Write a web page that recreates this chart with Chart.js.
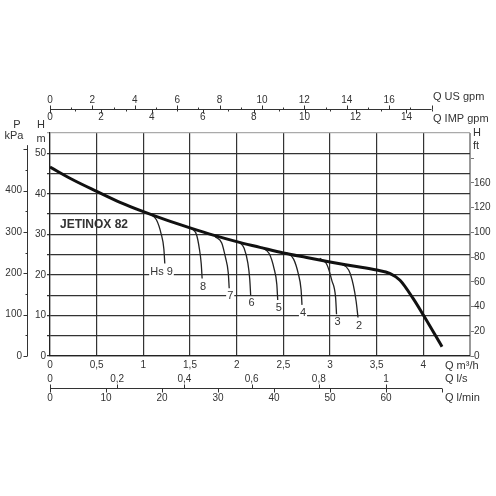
<!DOCTYPE html>
<html>
<head>
<meta charset="utf-8">
<script src="https://cdn.jsdelivr.net/npm/chart.js@4.4.1/dist/chart.umd.min.js"></script>
<style>
  html, body { margin: 0; padding: 0; background: #fff; }
</style>
</head>
<body>
<canvas id="chart" width="496" height="496"></canvas>
<script>
// pump curve JETINOX 82, head H [m] against flow Q [m3/h]
const flowM3h = [0, 0.25, 0.5, 0.75, 1, 1.25, 1.5, 1.75, 2, 2.25, 2.5, 2.75, 3, 3.25, 3.5, 3.64, 3.75, 3.89, 4.0, 4.2]
const headM = [46.6, 43.4, 40.6, 37.9, 35.6, 33.5, 31.6, 29.8, 28.2, 26.8, 25.4, 24.3, 23.2, 22.2, 21.2, 20.4, 18.7, 14.2, 10.1, 2.3]

// suction lift curves (Hs 9 ... 2)
const suctionLabels = ['Hs 9', '8', '7', '6', '5', '4', '3', '2']
const suctionQ = [
  [1.07, 1.14, 1.19, 1.22, 1.23],
  [1.52, 1.57, 1.60, 1.62, 1.63],
  [1.77, 1.84, 1.88, 1.91, 1.92],
  [2.02, 2.08, 2.12, 2.14, 2.15],
  [2.27, 2.35, 2.40, 2.43, 2.44],
  [2.54, 2.61, 2.66, 2.69, 2.70],
  [2.89, 2.97, 3.02, 3.06, 3.07],
  [3.11, 3.20, 3.25, 3.28, 3.30]
]
const suctionH = [
  [35.1, 33.6, 30.2, 26.4, 22.8],
  [31.4, 29.9, 26.5, 22.8, 19.1],
  [29.4, 27.9, 24.3, 20.5, 16.7],
  [28.2, 26.6, 22.9, 19.0, 15.0],
  [26.8, 25.2, 21.6, 17.7, 13.8],
  [25.4, 23.9, 20.3, 16.4, 12.6],
  [24.1, 22.4, 18.6, 14.4, 10.3],
  [22.8, 21.2, 17.5, 13.5, 9.5]
]

// tick labels
const flowTicks = ['0', '0,5', '1', '1,5', '2', '2,5', '3', '3,5', '4']
const headTicks = ['0', '10', '20', '30', '40', '50']
const kpaTicks = ['0', '100', '200', '300', '400']
const ftTickValues = [0, 20, 40, 60, 80, 100, 120, 140, 160]
const ftTickLabels = ['0', '20', '40', '60', '80', '100', '120', '160', '']
const usGpmTicks = ['0', '2', '4', '6', '8', '10', '12', '14', '16']
const impGpmTicks = ['0', '2', '4', '6', '8', '10', '12', '14']
const lsTicks = ['0', '0,2', '0,4', '0,6', '0,8', '1']
const lminTicks = ['0', '10', '20', '30', '40', '50', '60']

// unit conversions
const M3H_PER_USGPM = 0.2271
const M3H_PER_IMPGPM = 0.2728
const M3H_PER_LS = 3.6
const M3H_PER_LMIN = 0.06
const M_PER_KPA = 0.10197
const M_PER_FT = 0.3048

const FONT = '"Liberation Sans", Arial, sans-serif'
const num = s => parseFloat(s.replace(',', '.'))

function line(ctx, x1, y1, x2, y2) {
  ctx.beginPath()
  ctx.moveTo(x1, y1)
  ctx.lineTo(x2, y2)
  ctx.stroke()
}

function text(ctx, str, x, y, align, size, bold) {
  ctx.font = (bold ? 'bold ' : '') + size + 'px ' + FONT
  ctx.textAlign = align
  ctx.textBaseline = 'middle'
  ctx.fillText(str, x, y)
}

const extraAxes = {
  id: 'extraAxes',
  afterDraw(chart) {
    const ctx = chart.ctx
    const xs = chart.scales.x
    const ys = chart.scales.y
    const qx = q => xs.getPixelForValue(q)
    ctx.save()
    ctx.strokeStyle = '#333'
    ctx.fillStyle = '#333'
    ctx.lineWidth = 1

    // top axis: US gpm above the line, IMP gpm below
    const topY = 109.5
    line(ctx, qx(0), topY, qx(18 * M3H_PER_USGPM), topY)
    for (let g = 0; g <= 18; g++) {
      const px = Math.round(qx(g * M3H_PER_USGPM)) + 0.5
      line(ctx, px, topY, px, topY - (g % 2 ? 2 : 4))
    }
    for (let g = 0; g <= 15; g++) {
      const px = Math.round(qx(g * M3H_PER_IMPGPM)) + 0.5
      line(ctx, px, topY, px, topY + (g % 2 ? 2 : 4))
    }
    usGpmTicks.forEach(l => text(ctx, l, qx(num(l) * M3H_PER_USGPM), topY - 9, 'center', 10))
    impGpmTicks.forEach(l => text(ctx, l, qx(num(l) * M3H_PER_IMPGPM), topY + 8, 'center', 10))
    text(ctx, 'Q US gpm', 433, 97, 'left', 11)
    text(ctx, 'Q IMP gpm', 433, 119, 'left', 11)

    // bottom axes: l/s above the line, l/min below
    const botY = 388.5
    line(ctx, qx(0), botY, qx(70 * M3H_PER_LMIN), botY)
    for (let s = 0; s <= 10; s += 2) {
      const px = Math.round(qx(s / 10 * M3H_PER_LS)) + 0.5
      line(ctx, px, botY, px, botY - 4)
    }
    for (let m = 0; m <= 70; m += 10) {
      const px = Math.round(qx(m * M3H_PER_LMIN)) + 0.5
      line(ctx, px, botY, px, botY + 4)
    }
    lsTicks.forEach(l => text(ctx, l, qx(num(l) * M3H_PER_LS), 379, 'center', 10))
    lminTicks.forEach(l => text(ctx, l, qx(num(l) * M3H_PER_LMIN), 398, 'center', 10))
    text(ctx, 'Q m\u00b3/h', 445, 366, 'left', 11)
    text(ctx, 'Q l/s', 445, 379, 'left', 11)
    text(ctx, 'Q l/min', 445, 398, 'left', 11)

    // pressure axis kPa
    const kx = 27.5
    line(ctx, kx, ys.getPixelForValue(0), kx, ys.getPixelForValue(510 * M_PER_KPA))
    for (let k = 0; k <= 500; k += 50) {
      const py = Math.round(ys.getPixelForValue(k * M_PER_KPA)) + 0.5
      line(ctx, kx - (k % 100 ? 2 : 4), py, kx, py)
    }
    kpaTicks.forEach(l => text(ctx, l, 22, ys.getPixelForValue(num(l) * M_PER_KPA), 'right', 10))

    // axis titles
    text(ctx, 'P', 17, 125, 'center', 11)
    text(ctx, 'kPa', 14, 136, 'center', 11)
    text(ctx, 'H', 41, 125, 'center', 11)
    text(ctx, 'm', 41, 139, 'center', 11)
    text(ctx, 'H', 473, 133, 'left', 11)
    text(ctx, 'ft', 473, 146, 'left', 11)

    text(ctx, 'JETINOX 82', 60, 225, 'left', 12, true)

    // suction lift labels at the curve ends
    ctx.font = '11px ' + FONT
    suctionLabels.forEach((l, i) => {
      const n = suctionQ[i].length - 1
      const px = qx(suctionQ[i][n])
      const py = ys.getPixelForValue(suctionH[i][n]) + 8
      const w = ctx.measureText(l).width
      const left = i === 0 ? px + 8 - w : px + 1 - w / 2
      ctx.fillStyle = '#fff'
      ctx.fillRect(left - 1, py - 5, w + 2, 10)
      ctx.fillStyle = '#333'
      text(ctx, l, left, py, 'left', 11)
    })
    ctx.restore()
  }
}

const datasets = [{
  data: flowM3h.map((q, i) => ({ x: q, y: headM[i] })),
  borderColor: '#111',
  borderWidth: 3,
  pointRadius: 0,
  cubicInterpolationMode: 'monotone'
}]
suctionQ.forEach((qs, i) => {
  datasets.push({
    data: qs.map((q, j) => ({ x: q, y: suctionH[i][j] })),
    borderColor: '#222',
    borderWidth: 1.3,
    pointRadius: 0,
    cubicInterpolationMode: 'monotone'
  })
})

const tickFont = { family: FONT, size: 10 }

new Chart(document.getElementById('chart'), {
  type: 'line',
  data: { datasets },
  options: {
    responsive: false,
    animation: false,
    layout: { padding: { top: 133, left: 0, right: 0, bottom: 0 } },
    plugins: { legend: { display: false }, tooltip: { enabled: false } },
    scales: {
      x: {
        type: 'linear',
        min: 0,
        max: 4.5,
        afterBuildTicks: s => { s.ticks = [0, 0.5, 1, 1.5, 2, 2.5, 3, 3.5, 4, 4.5].map(v => ({ value: v })) },
        afterFit: s => { s.height = 140 },
        ticks: {
          font: tickFont,
          color: '#333',
          padding: 3,
          maxRotation: 0,
          autoSkip: false,
          callback: (v, i) => flowTicks[i] || ''
        },
        grid: {
          drawTicks: false,
          color: c => c.tick && c.tick.value === 4.5 ? '#999' : '#333',
          lineWidth: 1.2
        },
        border: { color: '#222', width: 1.2 }
      },
      y: {
        min: 0,
        max: 55,
        afterBuildTicks: s => { s.ticks = [0, 5, 10, 15, 20, 25, 30, 35, 40, 45, 50, 55].map(v => ({ value: v })) },
        afterFit: s => { s.width = 50 },
        ticks: {
          font: tickFont,
          color: '#333',
          padding: 1,
          autoSkip: false,
          callback: v => v % 10 === 0 && v <= 50 ? headTicks[v / 10] : ''
        },
        grid: {
          tickLength: 3,
          color: c => c.tick && c.tick.value === 55 ? '#aaa' : '#333',
          lineWidth: 1.2
        },
        border: { color: '#222', width: 1.2 }
      },
      ft: {
        position: 'right',
        min: 0,
        max: 55 / M_PER_FT,
        afterBuildTicks: s => { s.ticks = ftTickValues.map(v => ({ value: v })) },
        afterFit: s => { s.width = 26 },
        ticks: {
          font: tickFont,
          color: '#333',
          padding: 0,
          autoSkip: false,
          callback: (v, i) => ftTickLabels[i]
        },
        grid: { drawOnChartArea: false, tickLength: 4, color: '#777' },
        border: { color: '#999', width: 1 }
      }
    }
  },
  plugins: [extraAxes]
})
</script>
</body>
</html>
